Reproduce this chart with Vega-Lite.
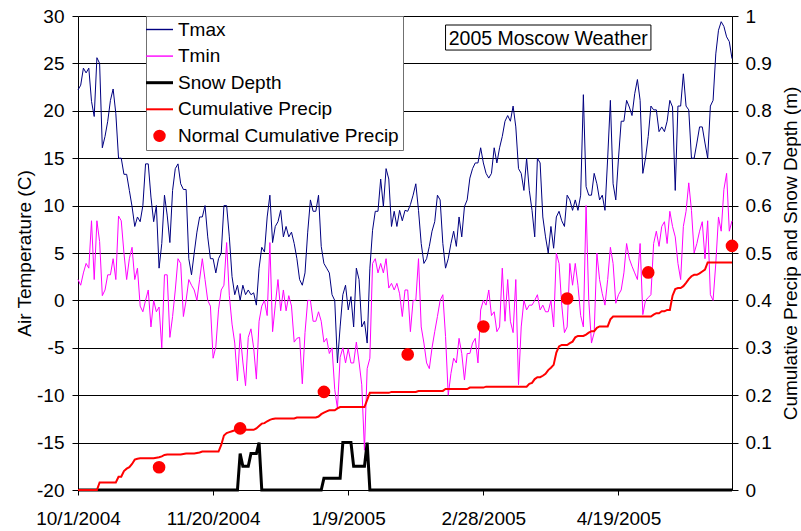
{
  "$schema": "https://vega.github.io/schema/vega-lite/v6.json",
  "width": 654,
  "height": 474,
  "autosize": {"type": "none"},
  "padding": {"left": 78, "top": 16, "right": 69, "bottom": 41},
  "background": "white",
  "config": {
    "view": {"stroke": null},
    "font": "Liberation Sans",
    "axis": {
      "labelFont": "Liberation Sans",
      "titleFont": "Liberation Sans",
      "labelFontSize": 19,
      "titleFontSize": 19,
      "titleFontWeight": "normal",
      "labelColor": "#000000",
      "titleColor": "#000000",
      "domainColor": "#000000",
      "tickColor": "#000000",
      "gridColor": "#000000",
      "gridOpacity": 1,
      "labelOverlap": false
    }
  },
  "datasets": {
    "daily": [
      {"date":"2004-10-01","tmax":22.2,"tmin":2.2,"snow":0,"precip":0},
      {"date":"2004-10-02","tmax":22.7,"tmin":1.6,"snow":0,"precip":0},
      {"date":"2004-10-03","tmax":24.5,"tmin":2.9,"snow":0,"precip":0},
      {"date":"2004-10-04","tmax":24.0,"tmin":3.9,"snow":0,"precip":0},
      {"date":"2004-10-05","tmax":24.5,"tmin":3.4,"snow":0,"precip":0},
      {"date":"2004-10-06","tmax":21.0,"tmin":8.4,"snow":0,"precip":0},
      {"date":"2004-10-07","tmax":19.4,"tmin":2.2,"snow":0,"precip":0},
      {"date":"2004-10-08","tmax":25.6,"tmin":8.4,"snow":0,"precip":0},
      {"date":"2004-10-09","tmax":25.0,"tmin":6.2,"snow":0,"precip":0.016},
      {"date":"2004-10-10","tmax":16.1,"tmin":0.5,"snow":0,"precip":0.016},
      {"date":"2004-10-11","tmax":17.3,"tmin":1.1,"snow":0,"precip":0.016},
      {"date":"2004-10-12","tmax":18.9,"tmin":2.7,"snow":0,"precip":0.016},
      {"date":"2004-10-13","tmax":21.1,"tmin":2.7,"snow":0,"precip":0.016},
      {"date":"2004-10-14","tmax":22.3,"tmin":4.4,"snow":0,"precip":0.016},
      {"date":"2004-10-15","tmax":19.7,"tmin":2.2,"snow":0,"precip":0.016},
      {"date":"2004-10-16","tmax":15.0,"tmin":8.9,"snow":0,"precip":0.028},
      {"date":"2004-10-17","tmax":15.0,"tmin":8.4,"snow":0,"precip":0.028},
      {"date":"2004-10-18","tmax":13.3,"tmin":5.0,"snow":0,"precip":0.04},
      {"date":"2004-10-19","tmax":13.3,"tmin":2.2,"snow":0,"precip":0.045},
      {"date":"2004-10-20","tmax":11.6,"tmin":4.4,"snow":0,"precip":0.048},
      {"date":"2004-10-21","tmax":9.9,"tmin":5.6,"snow":0,"precip":0.055},
      {"date":"2004-10-22","tmax":7.8,"tmin":2.2,"snow":0,"precip":0.064},
      {"date":"2004-10-23","tmax":8.8,"tmin":3.4,"snow":0,"precip":0.066},
      {"date":"2004-10-24","tmax":8.3,"tmin":-0.6,"snow":0,"precip":0.067},
      {"date":"2004-10-25","tmax":10.0,"tmin":-1.2,"snow":0,"precip":0.067},
      {"date":"2004-10-26","tmax":14.4,"tmin":0.0,"snow":0,"precip":0.067},
      {"date":"2004-10-27","tmax":14.4,"tmin":1.1,"snow":0,"precip":0.067},
      {"date":"2004-10-28","tmax":10.9,"tmin":-2.8,"snow":0,"precip":0.067},
      {"date":"2004-10-29","tmax":8.3,"tmin":0.0,"snow":0,"precip":0.067},
      {"date":"2004-10-30","tmax":10.0,"tmin":-1.2,"snow":0,"precip":0.068},
      {"date":"2004-10-31","tmax":3.4,"tmin":-0.7,"snow":0,"precip":0.069},
      {"date":"2004-11-01","tmax":6.0,"tmin":-5.0,"snow":0,"precip":0.071},
      {"date":"2004-11-02","tmax":11.1,"tmin":2.7,"snow":0,"precip":0.074},
      {"date":"2004-11-03","tmax":9.0,"tmin":2.7,"snow":0,"precip":0.075},
      {"date":"2004-11-04","tmax":6.1,"tmin":-3.9,"snow":0,"precip":0.075},
      {"date":"2004-11-05","tmax":11.6,"tmin":-1.7,"snow":0,"precip":0.075},
      {"date":"2004-11-06","tmax":13.9,"tmin":1.1,"snow":0,"precip":0.075},
      {"date":"2004-11-07","tmax":14.4,"tmin":4.4,"snow":0,"precip":0.075},
      {"date":"2004-11-08","tmax":12.3,"tmin":3.9,"snow":0,"precip":0.075},
      {"date":"2004-11-09","tmax":11.7,"tmin":-1.7,"snow":0,"precip":0.076},
      {"date":"2004-11-10","tmax":11.7,"tmin":0.0,"snow":0,"precip":0.077},
      {"date":"2004-11-11","tmax":4.4,"tmin":2.2,"snow":0,"precip":0.077},
      {"date":"2004-11-12","tmax":2.7,"tmin":1.6,"snow":0,"precip":0.077},
      {"date":"2004-11-13","tmax":5.0,"tmin":1.1,"snow":0,"precip":0.077},
      {"date":"2004-11-14","tmax":7.2,"tmin":0.0,"snow":0,"precip":0.078},
      {"date":"2004-11-15","tmax":8.8,"tmin":2.2,"snow":0,"precip":0.079},
      {"date":"2004-11-16","tmax":8.8,"tmin":4.4,"snow":0,"precip":0.081},
      {"date":"2004-11-17","tmax":10.0,"tmin":2.2,"snow":0,"precip":0.081},
      {"date":"2004-11-18","tmax":6.7,"tmin":0.0,"snow":0,"precip":0.081},
      {"date":"2004-11-19","tmax":4.4,"tmin":-0.6,"snow":0,"precip":0.081},
      {"date":"2004-11-20","tmax":4.4,"tmin":-6.1,"snow":0,"precip":0.081},
      {"date":"2004-11-21","tmax":2.9,"tmin":-4.9,"snow":0,"precip":0.081},
      {"date":"2004-11-22","tmax":4.4,"tmin":-1.0,"snow":0,"precip":0.081},
      {"date":"2004-11-23","tmax":5.0,"tmin":1.1,"snow":0,"precip":0.095},
      {"date":"2004-11-24","tmax":10.0,"tmin":1.6,"snow":0,"precip":0.115},
      {"date":"2004-11-25","tmax":10.0,"tmin":6.1,"snow":0,"precip":0.12},
      {"date":"2004-11-26","tmax":6.7,"tmin":0.5,"snow":0,"precip":0.122},
      {"date":"2004-11-27","tmax":2.5,"tmin":-2.5,"snow":0,"precip":0.124},
      {"date":"2004-11-28","tmax":0.6,"tmin":-4.5,"snow":0,"precip":0.126},
      {"date":"2004-11-29","tmax":1.6,"tmin":-8.5,"snow":0,"precip":0.127},
      {"date":"2004-11-30","tmax":0.0,"tmin":-3.5,"snow":0.077,"precip":0.127},
      {"date":"2004-12-01","tmax":1.6,"tmin":-6.5,"snow":0.05,"precip":0.127},
      {"date":"2004-12-02","tmax":0.6,"tmin":-9.0,"snow":0.05,"precip":0.127},
      {"date":"2004-12-03","tmax":1.1,"tmin":-3.9,"snow":0.05,"precip":0.127},
      {"date":"2004-12-04","tmax":0.6,"tmin":-3.0,"snow":0.077,"precip":0.127},
      {"date":"2004-12-05","tmax":0.8,"tmin":-5.0,"snow":0.077,"precip":0.127},
      {"date":"2004-12-06","tmax":-0.5,"tmin":-8.3,"snow":0.077,"precip":0.13},
      {"date":"2004-12-07","tmax":3.4,"tmin":-2.2,"snow":0.1,"precip":0.135},
      {"date":"2004-12-08","tmax":5.6,"tmin":-0.6,"snow":0,"precip":0.14},
      {"date":"2004-12-09","tmax":5.1,"tmin":0.0,"snow":0,"precip":0.141},
      {"date":"2004-12-10","tmax":8.8,"tmin":-1.6,"snow":0,"precip":0.145},
      {"date":"2004-12-11","tmax":11.1,"tmin":6.1,"snow":0,"precip":0.148},
      {"date":"2004-12-12","tmax":6.1,"tmin":-3.3,"snow":0,"precip":0.15},
      {"date":"2004-12-13","tmax":7.8,"tmin":-0.5,"snow":0,"precip":0.151},
      {"date":"2004-12-14","tmax":8.3,"tmin":2.2,"snow":0,"precip":0.151},
      {"date":"2004-12-15","tmax":9.5,"tmin":-1.1,"snow":0,"precip":0.151},
      {"date":"2004-12-16","tmax":6.7,"tmin":1.1,"snow":0,"precip":0.151},
      {"date":"2004-12-17","tmax":7.8,"tmin":-1.1,"snow":0,"precip":0.151},
      {"date":"2004-12-18","tmax":6.7,"tmin":0.5,"snow":0,"precip":0.151},
      {"date":"2004-12-19","tmax":7.2,"tmin":-0.6,"snow":0,"precip":0.151},
      {"date":"2004-12-20","tmax":6.0,"tmin":-4.4,"snow":0,"precip":0.151},
      {"date":"2004-12-21","tmax":4.4,"tmin":-4.0,"snow":0,"precip":0.153},
      {"date":"2004-12-22","tmax":2.2,"tmin":-3.9,"snow":0,"precip":0.153},
      {"date":"2004-12-23","tmax":1.6,"tmin":-8.8,"snow":0,"precip":0.153},
      {"date":"2004-12-24","tmax":2.9,"tmin":-3.4,"snow":0,"precip":0.153},
      {"date":"2004-12-25","tmax":7.2,"tmin":0.0,"snow":0,"precip":0.153},
      {"date":"2004-12-26","tmax":10.6,"tmin":0.0,"snow":0,"precip":0.153},
      {"date":"2004-12-27","tmax":9.4,"tmin":-2.2,"snow":0,"precip":0.153},
      {"date":"2004-12-28","tmax":9.4,"tmin":-2.2,"snow":0,"precip":0.153},
      {"date":"2004-12-29","tmax":11.1,"tmin":-1.2,"snow":0,"precip":0.155},
      {"date":"2004-12-30","tmax":5.7,"tmin":-2.2,"snow":0,"precip":0.16},
      {"date":"2004-12-31","tmax":3.9,"tmin":-4.4,"snow":0.025,"precip":0.163},
      {"date":"2005-01-01","tmax":3.4,"tmin":-4.0,"snow":0.025,"precip":0.166},
      {"date":"2005-01-02","tmax":2.9,"tmin":-5.6,"snow":0.025,"precip":0.168},
      {"date":"2005-01-03","tmax":0.6,"tmin":-5.0,"snow":0.025,"precip":0.168},
      {"date":"2005-01-04","tmax":0.0,"tmin":-9.4,"snow":0.025,"precip":0.168},
      {"date":"2005-01-05","tmax":-6.6,"tmin":-11.4,"snow":0.025,"precip":0.172},
      {"date":"2005-01-06","tmax":-2.8,"tmin":-6.0,"snow":0.025,"precip":0.175},
      {"date":"2005-01-07","tmax":0.6,"tmin":-5.0,"snow":0.1,"precip":0.175},
      {"date":"2005-01-08","tmax":1.6,"tmin":-6.6,"snow":0.1,"precip":0.175},
      {"date":"2005-01-09","tmax":-1.0,"tmin":-5.1,"snow":0.1,"precip":0.175},
      {"date":"2005-01-10","tmax":0.4,"tmin":-6.6,"snow":0.1,"precip":0.175},
      {"date":"2005-01-11","tmax":-2.8,"tmin":-6.6,"snow":0.05,"precip":0.175},
      {"date":"2005-01-12","tmax":3.4,"tmin":-4.4,"snow":0.05,"precip":0.175},
      {"date":"2005-01-13","tmax":2.2,"tmin":-6.5,"snow":0.05,"precip":0.175},
      {"date":"2005-01-14","tmax":-2.8,"tmin":-8.9,"snow":0.05,"precip":0.175},
      {"date":"2005-01-15","tmax":-2.2,"tmin":-15.8,"snow":0.05,"precip":0.175},
      {"date":"2005-01-16","tmax":-4.5,"tmin":-7.2,"snow":0.1,"precip":0.19},
      {"date":"2005-01-17","tmax":3.4,"tmin":-6.1,"snow":0,"precip":0.205},
      {"date":"2005-01-18","tmax":7.4,"tmin":3.9,"snow":0,"precip":0.205},
      {"date":"2005-01-19","tmax":9.4,"tmin":4.4,"snow":0,"precip":0.205},
      {"date":"2005-01-20","tmax":9.4,"tmin":2.9,"snow":0,"precip":0.205},
      {"date":"2005-01-21","tmax":12.8,"tmin":3.9,"snow":0,"precip":0.205},
      {"date":"2005-01-22","tmax":9.9,"tmin":2.9,"snow":0,"precip":0.205},
      {"date":"2005-01-23","tmax":13.9,"tmin":4.4,"snow":0,"precip":0.205},
      {"date":"2005-01-24","tmax":12.8,"tmin":1.3,"snow":0,"precip":0.205},
      {"date":"2005-01-25","tmax":7.8,"tmin":1.8,"snow":0,"precip":0.207},
      {"date":"2005-01-26","tmax":9.4,"tmin":1.1,"snow":0,"precip":0.207},
      {"date":"2005-01-27","tmax":7.8,"tmin":1.8,"snow":0,"precip":0.207},
      {"date":"2005-01-28","tmax":9.5,"tmin":0.7,"snow":0,"precip":0.207},
      {"date":"2005-01-29","tmax":8.4,"tmin":-1.7,"snow":0,"precip":0.207},
      {"date":"2005-01-30","tmax":9.5,"tmin":1.1,"snow":0,"precip":0.207},
      {"date":"2005-01-31","tmax":9.4,"tmin":1.1,"snow":0,"precip":0.207},
      {"date":"2005-02-01","tmax":10.1,"tmin":-3.3,"snow":0,"precip":0.207},
      {"date":"2005-02-02","tmax":11.1,"tmin":0.0,"snow":0,"precip":0.207},
      {"date":"2005-02-03","tmax":12.3,"tmin":0.0,"snow":0,"precip":0.207},
      {"date":"2005-02-04","tmax":9.5,"tmin":4.4,"snow":0,"precip":0.209},
      {"date":"2005-02-05","tmax":6.0,"tmin":-2.8,"snow":0,"precip":0.209},
      {"date":"2005-02-06","tmax":3.9,"tmin":-4.5,"snow":0,"precip":0.209},
      {"date":"2005-02-07","tmax":4.4,"tmin":-6.6,"snow":0,"precip":0.209},
      {"date":"2005-02-08","tmax":5.7,"tmin":-7.2,"snow":0,"precip":0.209},
      {"date":"2005-02-09","tmax":7.3,"tmin":-5.0,"snow":0,"precip":0.209},
      {"date":"2005-02-10","tmax":8.3,"tmin":-3.3,"snow":0,"precip":0.209},
      {"date":"2005-02-11","tmax":11.1,"tmin":-1.7,"snow":0,"precip":0.209},
      {"date":"2005-02-12","tmax":10.6,"tmin":0.0,"snow":0,"precip":0.209},
      {"date":"2005-02-13","tmax":6.0,"tmin":0.6,"snow":0,"precip":0.209},
      {"date":"2005-02-14","tmax":3.4,"tmin":-3.8,"snow":0,"precip":0.213},
      {"date":"2005-02-15","tmax":4.4,"tmin":-10.0,"snow":0,"precip":0.213},
      {"date":"2005-02-16","tmax":6.0,"tmin":-7.7,"snow":0,"precip":0.213},
      {"date":"2005-02-17","tmax":7.3,"tmin":-6.1,"snow":0,"precip":0.213},
      {"date":"2005-02-18","tmax":5.7,"tmin":-6.6,"snow":0,"precip":0.213},
      {"date":"2005-02-19","tmax":8.8,"tmin":-4.0,"snow":0,"precip":0.213},
      {"date":"2005-02-20","tmax":6.7,"tmin":-5.6,"snow":0,"precip":0.213},
      {"date":"2005-02-21","tmax":9.9,"tmin":-8.4,"snow":0,"precip":0.213},
      {"date":"2005-02-22","tmax":10.6,"tmin":-5.6,"snow":0,"precip":0.213},
      {"date":"2005-02-23","tmax":12.9,"tmin":-5.6,"snow":0,"precip":0.216},
      {"date":"2005-02-24","tmax":13.9,"tmin":-4.5,"snow":0,"precip":0.216},
      {"date":"2005-02-25","tmax":14.5,"tmin":-4.0,"snow":0,"precip":0.216},
      {"date":"2005-02-26","tmax":14.5,"tmin":-6.6,"snow":0,"precip":0.216},
      {"date":"2005-02-27","tmax":16.1,"tmin":-1.0,"snow":0,"precip":0.216},
      {"date":"2005-02-28","tmax":14.5,"tmin":0.0,"snow":0,"precip":0.216},
      {"date":"2005-03-01","tmax":13.4,"tmin":-0.5,"snow":0,"precip":0.218},
      {"date":"2005-03-02","tmax":12.9,"tmin":1.1,"snow":0,"precip":0.218},
      {"date":"2005-03-03","tmax":13.4,"tmin":-1.6,"snow":0,"precip":0.218},
      {"date":"2005-03-04","tmax":16.1,"tmin":-1.2,"snow":0,"precip":0.218},
      {"date":"2005-03-05","tmax":14.5,"tmin":-3.3,"snow":0,"precip":0.218},
      {"date":"2005-03-06","tmax":16.1,"tmin":-2.8,"snow":0,"precip":0.218},
      {"date":"2005-03-07","tmax":17.3,"tmin":3.4,"snow":0,"precip":0.218},
      {"date":"2005-03-08","tmax":18.9,"tmin":-2.2,"snow":0,"precip":0.218},
      {"date":"2005-03-09","tmax":19.5,"tmin":2.2,"snow":0,"precip":0.218},
      {"date":"2005-03-10","tmax":18.9,"tmin":-2.2,"snow":0,"precip":0.218},
      {"date":"2005-03-11","tmax":20.5,"tmin":-3.4,"snow":0,"precip":0.218},
      {"date":"2005-03-12","tmax":18.3,"tmin":2.2,"snow":0,"precip":0.218},
      {"date":"2005-03-13","tmax":13.9,"tmin":-8.9,"snow":0,"precip":0.218},
      {"date":"2005-03-14","tmax":13.4,"tmin":-2.8,"snow":0,"precip":0.218},
      {"date":"2005-03-15","tmax":11.6,"tmin":0.0,"snow":0,"precip":0.218},
      {"date":"2005-03-16","tmax":15.0,"tmin":-1.0,"snow":0,"precip":0.218},
      {"date":"2005-03-17","tmax":11.6,"tmin":-0.5,"snow":0,"precip":0.224},
      {"date":"2005-03-18","tmax":9.5,"tmin":-0.5,"snow":0,"precip":0.226},
      {"date":"2005-03-19","tmax":6.7,"tmin":0.0,"snow":0,"precip":0.234},
      {"date":"2005-03-20","tmax":15.0,"tmin":0.6,"snow":0,"precip":0.238},
      {"date":"2005-03-21","tmax":14.5,"tmin":-1.0,"snow":0,"precip":0.238},
      {"date":"2005-03-22","tmax":8.8,"tmin":-0.5,"snow":0,"precip":0.241},
      {"date":"2005-03-23","tmax":6.7,"tmin":-1.2,"snow":0,"precip":0.245},
      {"date":"2005-03-24","tmax":5.0,"tmin":-1.2,"snow":0,"precip":0.253},
      {"date":"2005-03-25","tmax":7.8,"tmin":0.0,"snow":0,"precip":0.258},
      {"date":"2005-03-26","tmax":5.5,"tmin":-2.8,"snow":0,"precip":0.264},
      {"date":"2005-03-27","tmax":8.8,"tmin":5.0,"snow":0,"precip":0.29},
      {"date":"2005-03-28","tmax":9.4,"tmin":3.9,"snow":0,"precip":0.303},
      {"date":"2005-03-29","tmax":8.4,"tmin":-0.5,"snow":0,"precip":0.306},
      {"date":"2005-03-30","tmax":7.8,"tmin":-3.4,"snow":0,"precip":0.306},
      {"date":"2005-03-31","tmax":11.1,"tmin":-2.8,"snow":0,"precip":0.306},
      {"date":"2005-04-01","tmax":10.6,"tmin":3.9,"snow":0,"precip":0.31},
      {"date":"2005-04-02","tmax":9.5,"tmin":1.6,"snow":0,"precip":0.313},
      {"date":"2005-04-03","tmax":10.6,"tmin":3.9,"snow":0,"precip":0.322},
      {"date":"2005-04-04","tmax":9.5,"tmin":1.6,"snow":0,"precip":0.325},
      {"date":"2005-04-05","tmax":11.1,"tmin":-1.6,"snow":0,"precip":0.325},
      {"date":"2005-04-06","tmax":21.7,"tmin":-2.8,"snow":0,"precip":0.325},
      {"date":"2005-04-07","tmax":12.0,"tmin":10.0,"snow":0,"precip":0.328},
      {"date":"2005-04-08","tmax":11.1,"tmin":0.0,"snow":0,"precip":0.332},
      {"date":"2005-04-09","tmax":11.1,"tmin":-4.5,"snow":0,"precip":0.335},
      {"date":"2005-04-10","tmax":13.4,"tmin":-3.4,"snow":0,"precip":0.335},
      {"date":"2005-04-11","tmax":12.3,"tmin":5.0,"snow":0,"precip":0.342},
      {"date":"2005-04-12","tmax":10.6,"tmin":2.2,"snow":0,"precip":0.345},
      {"date":"2005-04-13","tmax":11.1,"tmin":0.7,"snow":0,"precip":0.345},
      {"date":"2005-04-14","tmax":9.5,"tmin":-0.5,"snow":0,"precip":0.345},
      {"date":"2005-04-15","tmax":15.0,"tmin":2.2,"snow":0,"precip":0.345},
      {"date":"2005-04-16","tmax":21.1,"tmin":5.6,"snow":0,"precip":0.36},
      {"date":"2005-04-17","tmax":12.3,"tmin":3.9,"snow":0,"precip":0.366},
      {"date":"2005-04-18","tmax":10.6,"tmin":-0.3,"snow":0,"precip":0.366},
      {"date":"2005-04-19","tmax":15.0,"tmin":0.6,"snow":0,"precip":0.366},
      {"date":"2005-04-20","tmax":18.9,"tmin":1.1,"snow":0,"precip":0.366},
      {"date":"2005-04-21","tmax":18.9,"tmin":2.9,"snow":0,"precip":0.366},
      {"date":"2005-04-22","tmax":21.1,"tmin":6.0,"snow":0,"precip":0.366},
      {"date":"2005-04-23","tmax":20.4,"tmin":4.4,"snow":0,"precip":0.366},
      {"date":"2005-04-24","tmax":19.5,"tmin":3.6,"snow":0,"precip":0.366},
      {"date":"2005-04-25","tmax":21.8,"tmin":2.9,"snow":0,"precip":0.366},
      {"date":"2005-04-26","tmax":23.3,"tmin":2.2,"snow":0,"precip":0.366},
      {"date":"2005-04-27","tmax":21.1,"tmin":6.0,"snow":0,"precip":0.366},
      {"date":"2005-04-28","tmax":13.4,"tmin":-1.5,"snow":0,"precip":0.366},
      {"date":"2005-04-29","tmax":15.0,"tmin":0.0,"snow":0,"precip":0.366},
      {"date":"2005-04-30","tmax":17.3,"tmin":0.3,"snow":0,"precip":0.366},
      {"date":"2005-05-01","tmax":20.5,"tmin":0.6,"snow":0,"precip":0.366},
      {"date":"2005-05-02","tmax":20.1,"tmin":6.0,"snow":0,"precip":0.37},
      {"date":"2005-05-03","tmax":20.1,"tmin":7.3,"snow":0,"precip":0.373},
      {"date":"2005-05-04","tmax":17.8,"tmin":5.7,"snow":0,"precip":0.373},
      {"date":"2005-05-05","tmax":18.3,"tmin":7.8,"snow":0,"precip":0.377},
      {"date":"2005-05-06","tmax":17.8,"tmin":8.3,"snow":0,"precip":0.377},
      {"date":"2005-05-07","tmax":18.9,"tmin":6.0,"snow":0,"precip":0.38},
      {"date":"2005-05-08","tmax":21.1,"tmin":9.4,"snow":0,"precip":0.38},
      {"date":"2005-05-09","tmax":20.4,"tmin":7.8,"snow":0,"precip":0.41},
      {"date":"2005-05-10","tmax":11.6,"tmin":6.7,"snow":0,"precip":0.424},
      {"date":"2005-05-11","tmax":20.5,"tmin":3.9,"snow":0,"precip":0.426},
      {"date":"2005-05-12","tmax":20.5,"tmin":2.2,"snow":0,"precip":0.426},
      {"date":"2005-05-13","tmax":23.9,"tmin":7.8,"snow":0,"precip":0.43},
      {"date":"2005-05-14","tmax":20.5,"tmin":9.4,"snow":0,"precip":0.437},
      {"date":"2005-05-15","tmax":20.1,"tmin":12.4,"snow":0,"precip":0.445},
      {"date":"2005-05-16","tmax":15.0,"tmin":9.5,"snow":0,"precip":0.451},
      {"date":"2005-05-17","tmax":15.0,"tmin":5.0,"snow":0,"precip":0.454},
      {"date":"2005-05-18","tmax":16.6,"tmin":6.0,"snow":0,"precip":0.454},
      {"date":"2005-05-19","tmax":18.3,"tmin":7.3,"snow":0,"precip":0.457},
      {"date":"2005-05-20","tmax":18.3,"tmin":8.3,"snow":0,"precip":0.461},
      {"date":"2005-05-21","tmax":16.6,"tmin":4.4,"snow":0,"precip":0.465},
      {"date":"2005-05-22","tmax":15.0,"tmin":8.4,"snow":0,"precip":0.48},
      {"date":"2005-05-23","tmax":20.5,"tmin":0.6,"snow":0,"precip":0.48},
      {"date":"2005-05-24","tmax":21.1,"tmin":0.0,"snow":0,"precip":0.48},
      {"date":"2005-05-25","tmax":26.0,"tmin":3.9,"snow":0,"precip":0.48},
      {"date":"2005-05-26","tmax":28.5,"tmin":8.8,"snow":0,"precip":0.48},
      {"date":"2005-05-27","tmax":29.4,"tmin":7.3,"snow":0,"precip":0.48},
      {"date":"2005-05-28","tmax":28.9,"tmin":11.7,"snow":0,"precip":0.48},
      {"date":"2005-05-29","tmax":27.8,"tmin":13.4,"snow":0,"precip":0.48},
      {"date":"2005-05-30","tmax":27.3,"tmin":7.3,"snow":0,"precip":0.48},
      {"date":"2005-05-31","tmax":25.5,"tmin":8.4,"snow":0,"precip":0.48}
    ],
    "normal": [
      {"date":"2004-10-31","normal":0.048},
      {"date":"2004-11-30","normal":0.13},
      {"date":"2004-12-31","normal":0.207},
      {"date":"2005-01-31","normal":0.286},
      {"date":"2005-02-28","normal":0.345},
      {"date":"2005-03-31","normal":0.404},
      {"date":"2005-04-30","normal":0.459},
      {"date":"2005-05-31","normal":0.515}
    ]
  },
  "data": {"name": "daily"},
  "layer": [
    {
      "layer": [
        {
          "mark": {"type": "line", "strokeWidth": 1},
          "encoding": {
            "x": {
              "field": "date",
              "type": "temporal",
              "title": null,
              "scale": {
                "type": "utc",
                "domain": [
                  {"year": 2004, "month": 10, "date": 1, "utc": true},
                  {"year": 2005, "month": 5, "date": 31, "utc": true}
                ]
              },
              "axis": {
                "values": [
                  {"year": 2004, "month": 10, "date": 1, "utc": true},
                  {"year": 2004, "month": 11, "date": 20, "utc": true},
                  {"year": 2005, "month": 1, "date": 9, "utc": true},
                  {"year": 2005, "month": 2, "date": 28, "utc": true},
                  {"year": 2005, "month": 4, "date": 19, "utc": true}
                ],
                "format": "%-m/%-d/%Y",
                "grid": false,
                "tickSize": 5,
                "labelPadding": 14,
                "labelFlush": false
              }
            },
            "y": {
              "field": "tmax",
              "type": "quantitative",
              "title": "Air Temperature (C)",
              "scale": {"domain": [-20, 30], "nice": false, "zero": false},
              "axis": {
                "orient": "left",
                "values": [-20, -15, -10, -5, 0, 5, 10, 15, 20, 25, 30],
                "labelExpr": "datum.value < 0 ? '-' + (-datum.value) : '' + datum.value",
                "grid": true,
                "tickSize": 6,
                "labelPadding": 8,
                "titlePadding": 2
              }
            },
            "color": {
              "datum": "Tmax",
              "type": "nominal",
              "scale": {
                "domain": ["Tmax", "Tmin", "Snow Depth", "Cumulative Precip", "Normal Cumulative Precip"],
                "range": ["#000080", "#ff00ff", "#000000", "#ff0000", "#ff0000"]
              },
              "legend": {
                "title": null, "orient": "none", "legendX": 68, "legendY": 0, "direction": "vertical",
                "symbolType": "stroke", "symbolSize": 729, "symbolStrokeWidth": 1,
                "labelFont": "Liberation Sans", "labelFontSize": 19, "labelColor": "#000000", "labelLimit": 400,
                "labelOffset": 9, "rowPadding": 6.6, "padding": 4,
                "strokeColor": "#707070", "fillColor": "#ffffff", "zindex": 1,
                "encode": {"symbols": {"update": {
                  "shape": {"signal": "datum.value === 'Normal Cumulative Precip' ? 'circle' : 'stroke'"},
                  "size": {"signal": "datum.value === 'Normal Cumulative Precip' ? 121 : 729"},
                  "strokeWidth": {"signal": "datum.value === 'Snow Depth' ? 3 : datum.value === 'Cumulative Precip' ? 2 : 1.4"},
                  "stroke": {"signal": "datum.value === 'Tmax' ? '#000080' : datum.value === 'Tmin' ? '#ff00ff' : datum.value === 'Snow Depth' ? '#000000' : '#ff0000'"},
                  "fill": {"signal": "datum.value === 'Normal Cumulative Precip' ? '#ff0000' : 'transparent'"},
                  "opacity": {"value": 1}
                }}}
              }
            }
          }
        },
        {
          "mark": {"type": "line", "strokeWidth": 1},
          "encoding": {
            "x": {"field": "date", "type": "temporal", "title": null},
            "y": {"field": "tmin", "type": "quantitative", "title": "Air Temperature (C)"},
            "color": {
              "datum": "Tmin",
              "type": "nominal",
              "scale": {
                "domain": ["Tmax", "Tmin", "Snow Depth", "Cumulative Precip", "Normal Cumulative Precip"],
                "range": ["#000080", "#ff00ff", "#000000", "#ff0000", "#ff0000"]
              },
              "legend": {
                "title": null, "orient": "none", "legendX": 68, "legendY": 0, "direction": "vertical",
                "symbolType": "stroke", "symbolSize": 729, "symbolStrokeWidth": 1,
                "labelFont": "Liberation Sans", "labelFontSize": 19, "labelColor": "#000000", "labelLimit": 400,
                "labelOffset": 9, "rowPadding": 6.6, "padding": 4,
                "strokeColor": "#707070", "fillColor": "#ffffff", "zindex": 1,
                "encode": {"symbols": {"update": {
                  "shape": {"signal": "datum.value === 'Normal Cumulative Precip' ? 'circle' : 'stroke'"},
                  "size": {"signal": "datum.value === 'Normal Cumulative Precip' ? 121 : 729"},
                  "strokeWidth": {"signal": "datum.value === 'Snow Depth' ? 3 : datum.value === 'Cumulative Precip' ? 2 : 1.4"},
                  "stroke": {"signal": "datum.value === 'Tmax' ? '#000080' : datum.value === 'Tmin' ? '#ff00ff' : datum.value === 'Snow Depth' ? '#000000' : '#ff0000'"},
                  "fill": {"signal": "datum.value === 'Normal Cumulative Precip' ? '#ff0000' : 'transparent'"},
                  "opacity": {"value": 1}
                }}}
              }
            }
          }
        },
        {
          "data": {"values": [{"label": "2005 Moscow Weather"}]},
          "mark": {"type": "rect", "fill": "#ffffff", "stroke": "#000000", "strokeWidth": 1},
          "encoding": {
            "x": {"datum": {"year": 2005, "month": 2, "date": 14, "utc": true}, "type": "temporal", "title": null},
            "x2": {"datum": {"year": 2005, "month": 5, "date": 1, "utc": true}},
            "y": {"datum": 29.05, "type": "quantitative", "title": "Air Temperature (C)"},
            "y2": {"datum": 26.41}
          }
        },
        {
          "data": {"values": [{"label": "2005 Moscow Weather"}]},
          "mark": {"type": "text", "font": "Liberation Sans", "fontSize": 19.5, "color": "#000000", "align": "center", "baseline": "middle"},
          "encoding": {
            "x": {"datum": {"year": 2005, "month": 3, "date": 24, "utc": true}, "type": "temporal", "title": null},
            "y": {"datum": 27.6, "type": "quantitative", "title": "Air Temperature (C)"},
            "text": {"field": "label", "type": "nominal"}
          }
        }
      ]
    },
    {
      "layer": [
        {
          "mark": {"type": "line", "strokeWidth": 3},
          "encoding": {
            "x": {"field": "date", "type": "temporal", "title": null},
            "y": {
              "field": "snow",
              "type": "quantitative",
              "title": "Cumulative Precip and Snow Depth (m)",
              "scale": {"domain": [0, 1], "nice": false},
              "axis": {
                "orient": "right",
                "values": [0, 0.1, 0.2, 0.3, 0.4, 0.5, 0.6, 0.7, 0.8, 0.9, 1],
                "format": "~g",
                "grid": false,
                "tickSize": 6,
                "labelPadding": 7,
                "titleAngle": 270,
                "titleBaseline": "top",
                "titlePadding": 10
              }
            },
            "color": {
              "datum": "Snow Depth",
              "type": "nominal",
              "scale": {
                "domain": ["Tmax", "Tmin", "Snow Depth", "Cumulative Precip", "Normal Cumulative Precip"],
                "range": ["#000080", "#ff00ff", "#000000", "#ff0000", "#ff0000"]
              },
              "legend": {
                "title": null, "orient": "none", "legendX": 68, "legendY": 0, "direction": "vertical",
                "symbolType": "stroke", "symbolSize": 729, "symbolStrokeWidth": 1,
                "labelFont": "Liberation Sans", "labelFontSize": 19, "labelColor": "#000000", "labelLimit": 400,
                "labelOffset": 9, "rowPadding": 6.6, "padding": 4,
                "strokeColor": "#707070", "fillColor": "#ffffff", "zindex": 1,
                "encode": {"symbols": {"update": {
                  "shape": {"signal": "datum.value === 'Normal Cumulative Precip' ? 'circle' : 'stroke'"},
                  "size": {"signal": "datum.value === 'Normal Cumulative Precip' ? 121 : 729"},
                  "strokeWidth": {"signal": "datum.value === 'Snow Depth' ? 3 : datum.value === 'Cumulative Precip' ? 2 : 1.4"},
                  "stroke": {"signal": "datum.value === 'Tmax' ? '#000080' : datum.value === 'Tmin' ? '#ff00ff' : datum.value === 'Snow Depth' ? '#000000' : '#ff0000'"},
                  "fill": {"signal": "datum.value === 'Normal Cumulative Precip' ? '#ff0000' : 'transparent'"},
                  "opacity": {"value": 1}
                }}}
              }
            }
          }
        },
        {
          "mark": {"type": "line", "strokeWidth": 2},
          "encoding": {
            "x": {"field": "date", "type": "temporal", "title": null},
            "y": {"field": "precip", "type": "quantitative", "title": "Cumulative Precip and Snow Depth (m)"},
            "color": {
              "datum": "Cumulative Precip",
              "type": "nominal",
              "scale": {
                "domain": ["Tmax", "Tmin", "Snow Depth", "Cumulative Precip", "Normal Cumulative Precip"],
                "range": ["#000080", "#ff00ff", "#000000", "#ff0000", "#ff0000"]
              },
              "legend": {
                "title": null, "orient": "none", "legendX": 68, "legendY": 0, "direction": "vertical",
                "symbolType": "stroke", "symbolSize": 729, "symbolStrokeWidth": 1,
                "labelFont": "Liberation Sans", "labelFontSize": 19, "labelColor": "#000000", "labelLimit": 400,
                "labelOffset": 9, "rowPadding": 6.6, "padding": 4,
                "strokeColor": "#707070", "fillColor": "#ffffff", "zindex": 1,
                "encode": {"symbols": {"update": {
                  "shape": {"signal": "datum.value === 'Normal Cumulative Precip' ? 'circle' : 'stroke'"},
                  "size": {"signal": "datum.value === 'Normal Cumulative Precip' ? 121 : 729"},
                  "strokeWidth": {"signal": "datum.value === 'Snow Depth' ? 3 : datum.value === 'Cumulative Precip' ? 2 : 1.4"},
                  "stroke": {"signal": "datum.value === 'Tmax' ? '#000080' : datum.value === 'Tmin' ? '#ff00ff' : datum.value === 'Snow Depth' ? '#000000' : '#ff0000'"},
                  "fill": {"signal": "datum.value === 'Normal Cumulative Precip' ? '#ff0000' : 'transparent'"},
                  "opacity": {"value": 1}
                }}}
              }
            }
          }
        },
        {
          "data": {"name": "normal"},
          "mark": {"type": "point", "shape": "circle", "filled": true, "size": 160, "opacity": 1},
          "encoding": {
            "x": {"field": "date", "type": "temporal", "title": null},
            "y": {"field": "normal", "type": "quantitative", "title": "Cumulative Precip and Snow Depth (m)"},
            "color": {
              "datum": "Normal Cumulative Precip",
              "type": "nominal",
              "scale": {
                "domain": ["Tmax", "Tmin", "Snow Depth", "Cumulative Precip", "Normal Cumulative Precip"],
                "range": ["#000080", "#ff00ff", "#000000", "#ff0000", "#ff0000"]
              },
              "legend": {
                "title": null, "orient": "none", "legendX": 68, "legendY": 0, "direction": "vertical",
                "symbolType": "stroke", "symbolSize": 729, "symbolStrokeWidth": 1,
                "labelFont": "Liberation Sans", "labelFontSize": 19, "labelColor": "#000000", "labelLimit": 400,
                "labelOffset": 9, "rowPadding": 6.6, "padding": 4,
                "strokeColor": "#707070", "fillColor": "#ffffff", "zindex": 1,
                "encode": {"symbols": {"update": {
                  "shape": {"signal": "datum.value === 'Normal Cumulative Precip' ? 'circle' : 'stroke'"},
                  "size": {"signal": "datum.value === 'Normal Cumulative Precip' ? 121 : 729"},
                  "strokeWidth": {"signal": "datum.value === 'Snow Depth' ? 3 : datum.value === 'Cumulative Precip' ? 2 : 1.4"},
                  "stroke": {"signal": "datum.value === 'Tmax' ? '#000080' : datum.value === 'Tmin' ? '#ff00ff' : datum.value === 'Snow Depth' ? '#000000' : '#ff0000'"},
                  "fill": {"signal": "datum.value === 'Normal Cumulative Precip' ? '#ff0000' : 'transparent'"},
                  "opacity": {"value": 1}
                }}}
              }
            }
          }
        }
      ]
    }
  ],
  "resolve": {"scale": {"y": "independent"}}
}
